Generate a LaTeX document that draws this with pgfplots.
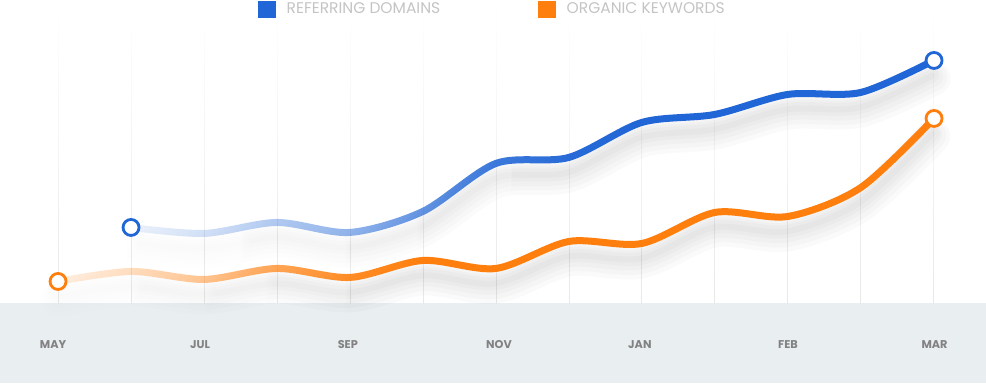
\documentclass[border=0pt]{standalone}
\usepackage{pgfplots}
\pgfplotsset{compat=1.18}
\usepackage{pgfplotstable}
\usepackage{fontspec}
\setmainfont{Poppins}
\usetikzlibrary{fadings}
\definecolor{rdblue}{HTML}{2166D6}
\definecolor{okorange}{HTML}{FF7F0E}
\definecolor{bandgray}{HTML}{E9EEF1}
\definecolor{legendgray}{HTML}{C4C4C4}
\definecolor{tickgray}{HTML}{828282}

% fit fading maps 25bp..75bp of the fading onto the path's bounding box
\pgfdeclarehorizontalshading{bluefadesh}{100bp}{color(0bp)=(black!92); color(25bp)=(black!92); color(29.6bp)=(black!80); color(34.1bp)=(black!65); color(38.8bp)=(black!50); color(43.1bp)=(black!30); color(47.7bp)=(black!12); color(52.2bp)=(black!3); color(56.8bp)=(black!0); color(100bp)=(black!0)}
\pgfdeclarefading{bluefade}{\pgfuseshading{bluefadesh}}
\pgfdeclarehorizontalshading{orfadesh}{100bp}{color(0bp)=(black!88); color(25bp)=(black!88); color(29bp)=(black!75); color(33.2bp)=(black!55); color(37.4bp)=(black!30); color(41.7bp)=(black!10); color(45.7bp)=(black!0); color(100bp)=(black!0)}
\pgfdeclarefading{orfade}{\pgfuseshading{orfadesh}}

\pgfplotstableread{
k v
1 76
2 70
3 81
4 71
5 92
6 140
7 146
8 181
9 189
10 209
11 211
12 243
}\bluedata

\pgfplotstableread{
k v
0 22
1 32
2 24
3 35
4 26
5 43
6 35
7 62
8 60
9 91
10 87
11 116
12 185
}\orangedata

\begin{document}
\begin{tikzpicture}
\begin{axis}[
  set layers=standard,
  width=986pt, height=303pt, scale only axis,
  xmin=-0.795, xmax=12.712, ymin=0, ymax=303,
  clip=false,
  axis line style={draw=none},
  ytick=\empty,
  xtick={-0.068,1.945,3.97,6.04,7.97,10.0,12.007},
  xticklabels={MAY,JUL,SEP,NOV,JAN,FEB,MAR},
  minor xtick={0,...,12},
  major tick length=0pt, minor tick length=0pt,
  xminorgrids,
  minor grid style={draw=black!9, line width=0.9pt, path fading=north},
  xticklabel style={font=\bfseries\fontsize{11.3}{13}\selectfont, text=tickgray, anchor=center, yshift=-41pt},
  legend columns=2,
  legend style={at={(0.2617,1)}, anchor=north west, inner sep=0pt, draw=none, fill=none,
    font=\fontsize{15.5}{17}\selectfont, text=legendgray,
    nodes={inner sep=0pt},
    /tikz/every odd column/.append style={column sep=11pt},
    /tikz/every even column/.append style={column sep=98pt}},
  legend image code/.code={\fill[#1] (0pt,-8pt) rectangle (17pt,8pt);},
]
\begin{pgfonlayer}{axis background}
\fill[bandgray] (axis cs:-0.795,0) rectangle (axis cs:12.712,-80);
\end{pgfonlayer}
\addlegendimage{rdblue}
\addlegendentry{REFERRING DOMAINS}
\addlegendimage{okorange}
\addlegendentry{ORGANIC KEYWORDS}

% shadows
\addplot[forget plot, draw=black, opacity=0.018, line width=34pt, smooth, line cap=round, yshift=-18pt, path fading=bluefade] table {\bluedata};
\addplot[forget plot, draw=black, opacity=0.02, line width=27pt, smooth, line cap=round, yshift=-17pt, path fading=bluefade] table {\bluedata};
\addplot[forget plot, draw=black, opacity=0.02, line width=20pt, smooth, line cap=round, yshift=-16pt, path fading=bluefade] table {\bluedata};
\addplot[forget plot, draw=black, opacity=0.02, line width=13pt, smooth, line cap=round, yshift=-15pt, path fading=bluefade] table {\bluedata};
\addplot[forget plot, draw=black, opacity=0.02, line width=6pt, smooth, line cap=round, yshift=-15pt, path fading=bluefade] table {\bluedata};
\addplot[forget plot, draw=black, opacity=0.018, line width=34pt, smooth, line cap=round, yshift=-18pt, path fading=orfade] table {\orangedata};
\addplot[forget plot, draw=black, opacity=0.02, line width=27pt, smooth, line cap=round, yshift=-17pt, path fading=orfade] table {\orangedata};
\addplot[forget plot, draw=black, opacity=0.02, line width=20pt, smooth, line cap=round, yshift=-16pt, path fading=orfade] table {\orangedata};
\addplot[forget plot, draw=black, opacity=0.02, line width=13pt, smooth, line cap=round, yshift=-15pt, path fading=orfade] table {\orangedata};
\addplot[forget plot, draw=black, opacity=0.02, line width=6pt, smooth, line cap=round, yshift=-15pt, path fading=orfade] table {\orangedata};

% lines
\addplot[forget plot, draw=rdblue, line width=7pt, smooth, line cap=round, path fading=bluefade] table {\bluedata};
\addplot[forget plot, draw=okorange, line width=7pt, smooth, line cap=round, path fading=orfade] table {\orangedata};

% end markers
\addplot[forget plot, only marks, mark=*, mark size=8pt, mark options={fill=white, draw=rdblue, line width=2.8pt}] coordinates {(1,76) (12,243)};
\addplot[forget plot, only marks, mark=*, mark size=8pt, mark options={fill=white, draw=okorange, line width=2.8pt}] coordinates {(0,22) (12,185)};
\end{axis}
\end{tikzpicture}
\end{document}
